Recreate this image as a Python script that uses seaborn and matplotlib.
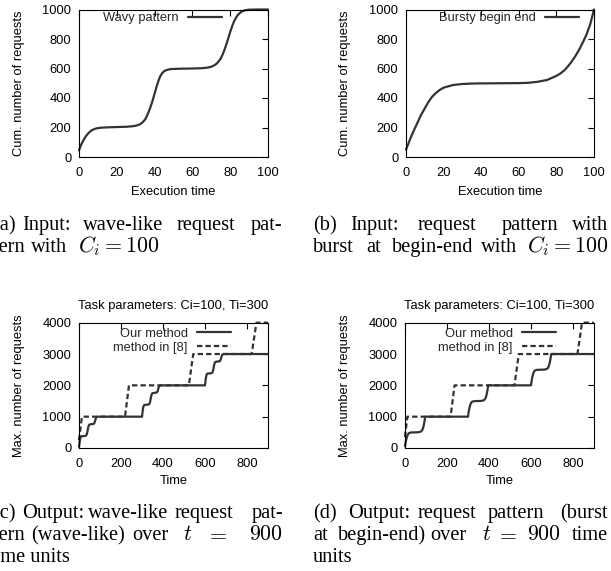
import matplotlib
matplotlib.use('Agg')
import matplotlib.pyplot as plt
import seaborn as sns

# ---------------- data ----------------
wave_t = [0, 1, 2, 3, 4, 5, 6, 7, 8, 9, 10, 12, 15, 20, 25, 28, 30, 32, 33, 34, 35,
          36, 37, 38, 39, 40, 41, 42, 43, 44, 45, 46, 48, 50, 55, 60, 65, 68, 70, 71,
          72, 73, 74, 75, 76, 77, 78, 79, 80, 81, 82, 83, 84, 85, 86, 87, 88, 90, 95, 100]
wave_v = [45, 80, 105, 128, 147, 162, 174, 183, 189, 193, 196, 199, 201, 203, 205, 208, 212, 220, 228, 240, 255,
          280, 310, 345, 385, 430, 475, 515, 548, 568, 581, 588, 595, 597, 599, 600, 602, 606, 612, 618,
          625, 635, 650, 668, 695, 728, 765, 805, 848, 885, 918, 943, 962, 975, 985, 991, 995, 999, 1000, 1000]

burst_t = [0, 2, 4, 6, 8, 10, 12, 14, 16, 18, 20, 25, 30, 35, 40, 50, 60, 65, 70, 75,
           80, 82, 84, 86, 88, 90, 92, 94, 96, 98, 100]
burst_v = [50, 115, 175, 230, 285, 330, 375, 410, 435, 455, 470, 488, 495, 498, 499, 500, 501, 503, 510, 522,
           550, 565, 585, 612, 645, 682, 725, 775, 830, 900, 1000]

c_ours_t = [0, 1, 2, 3, 4, 6, 8, 10, 13, 20, 28, 32, 35, 37, 39, 41, 43, 45, 47, 50, 58, 66, 70, 72, 74, 76, 78, 80, 82, 85, 90,
            300, 301, 302, 303, 304, 306, 308, 310, 313, 320, 328, 332, 335, 337, 339, 341, 343, 345, 347, 350, 358, 366, 370, 372, 374, 376, 378, 380, 382, 385, 390,
            600, 601, 602, 603, 604, 606, 608, 610, 613, 620, 628, 632, 635, 637, 639, 641, 643, 645, 647, 650, 658, 666, 670, 672, 674, 676, 678, 680, 682, 685, 690,
            900]
c_ours_v = [40, 90, 140, 185, 230, 300, 345, 366, 376, 380, 384, 392, 410, 440, 490, 560, 630, 690, 725, 750, 760, 765, 772, 785, 810, 850, 900, 945, 975, 994, 1000,
            1000, 1060, 1120, 1175, 1225, 1300, 1345, 1366, 1376, 1380, 1384, 1392, 1410, 1440, 1490, 1560, 1630, 1690, 1725, 1750, 1760, 1765, 1772, 1785, 1810, 1850, 1900, 1945, 1975, 1994, 2000,
            2000, 2060, 2120, 2175, 2225, 2300, 2345, 2366, 2376, 2380, 2384, 2392, 2410, 2440, 2490, 2560, 2630, 2690, 2725, 2750, 2760, 2765, 2772, 2785, 2810, 2850, 2900, 2945, 2975, 2994, 3000,
            3000]
c_ref_t = [0, 14, 219, 238, 523, 544, 822, 845, 900]
c_ref_v = [250, 1000, 1000, 2000, 2000, 3000, 3000, 4000, 4000]

d_ours_t = [0, 1, 2, 3, 4, 6, 8, 10, 12, 14, 16, 18, 20, 25, 30, 40, 50, 60, 65, 70, 75, 78, 80, 82, 84, 86, 88, 90, 92, 94, 96,
            300, 301, 302, 303, 304, 306, 308, 310, 312, 314, 316, 318, 320, 325, 330, 340, 350, 360, 365, 370, 375, 378, 380, 382, 384, 386, 388, 390, 392, 394, 396,
            600, 601, 602, 603, 604, 606, 608, 610, 612, 614, 616, 618, 620, 625, 630, 640, 650, 660, 665, 670, 675, 678, 680, 682, 684, 686, 688, 690, 692, 694, 696,
            900]
d_ours_v = [60, 100, 140, 178, 212, 270, 320, 362, 400, 430, 452, 468, 478, 490, 495, 498, 500, 502, 505, 512, 525, 538, 552, 572, 600, 640, 690, 750, 820, 900, 1000,
            1000, 1050, 1095, 1140, 1180, 1250, 1310, 1360, 1400, 1430, 1452, 1468, 1478, 1490, 1495, 1498, 1500, 1502, 1505, 1512, 1525, 1538, 1552, 1572, 1600, 1640, 1690, 1750, 1820, 1900, 2000,
            2000, 2050, 2095, 2140, 2180, 2250, 2310, 2360, 2400, 2430, 2452, 2468, 2478, 2490, 2495, 2498, 2500, 2502, 2505, 2512, 2525, 2538, 2552, 2572, 2600, 2640, 2690, 2750, 2820, 2900, 3000,
            3000]
d_ref_t = [0, 11, 217, 236, 521, 542, 821, 843, 900]
d_ref_v = [350, 1000, 1000, 2000, 2000, 3000, 3000, 4000, 4000]

in_xticks = [0, 20, 40, 60, 80, 100]
in_yticks = [0, 200, 400, 600, 800, 1000]
out_xticks = [0, 200, 400, 600, 800]
out_yticks = [0, 1000, 2000, 3000, 4000]

# ---------------- style ----------------
sns.set_theme(style='white')
plt.rcParams['font.family'] = ['Liberation Sans', 'DejaVu Sans']
plt.rcParams['mathtext.fontset'] = 'cm'

W, H = 611, 571
FS = 9.3
LC = '#333333'
LW = 1.6
fig = plt.figure(figsize=(W / 100, H / 100), dpi=100)
fig.patch.set_facecolor('white')


def add_ax(l, r, t, b):
    return fig.add_axes([l / W, 1 - b / H, (r - l) / W, (b - t) / H])


def style(ax, xlim, ylim, xt, yt, xlabel, ylabel, ylab_x, xlab_y):
    ax.set_xlim(*xlim)
    ax.set_ylim(*ylim)
    ax.set_xticks(xt)
    ax.set_yticks(yt)
    ax.tick_params(direction='in', length=4, width=0.8, top=True, right=True,
                   labelsize=FS, colors='black')
    ax.tick_params(axis='x', pad=7)
    ax.tick_params(axis='y', pad=5.5)
    for s in ax.spines.values():
        s.set_color('black')
        s.set_linewidth(0.8)
        s.set_visible(True)
    ax.set_xlabel(xlabel, fontsize=FS, color='black')
    ax.set_ylabel(ylabel, fontsize=FS, color='black')
    ax.yaxis.set_label_coords(ylab_x, 0.5)
    ax.xaxis.set_label_coords(0.5, xlab_y)
    ax.set_facecolor('white')


def legend(ax, x, y):
    ax.legend(loc='upper right', bbox_to_anchor=(x, y), frameon=False, markerfirst=False,
              fontsize=FS, handlelength=2.65, handletextpad=0.7, borderpad=0,
              borderaxespad=0, labelspacing=0.15)


axa = add_ax(79, 268, 9.5, 157)
axb = add_ax(406, 594, 9.5, 157)
axc = add_ax(79, 268, 322.7, 448)
axd = add_ax(405, 594, 322.7, 448)

sns.lineplot(x=wave_t, y=wave_v, ax=axa, color=LC, lw=LW, sort=False, estimator=None, label='Wavy pattern')
sns.lineplot(x=burst_t, y=burst_v, ax=axb, color=LC, lw=LW, sort=False, estimator=None, label='Bursty begin end')

for ax, ot, ov, rt, rv in [(axc, c_ours_t, c_ours_v, c_ref_t, c_ref_v),
                           (axd, d_ours_t, d_ours_v, d_ref_t, d_ref_v)]:
    sns.lineplot(x=ot, y=ov, ax=ax, color=LC, lw=LW, sort=False, estimator=None, label='Our method')
    sns.lineplot(x=rt, y=rv, ax=ax, color=LC, lw=LW, sort=False, estimator=None, label='method in [8]')
    ax.get_lines()[-1].set_dashes([2.4, 1.4])

for ax in (axa, axb, axc, axd):
    for ln in ax.get_lines():
        ln.set_clip_on(False)

style(axa, (0, 100), (0, 1000), in_xticks, in_yticks, 'Execution time', 'Cum. number of requests', -0.285, -0.195)
style(axb, (0, 100), (0, 1000), in_xticks, in_yticks, 'Execution time', 'Cum. number of requests', -0.29, -0.195)
style(axc, (0, 900), (0, 4000), out_xticks, out_yticks, 'Time', 'Max. number of requests', -0.285, -0.215)
style(axd, (0, 900), (0, 4000), out_xticks, out_yticks, 'Time', 'Max. number of requests', -0.285, -0.215)

for ax in (axc, axd):
    ax.set_title('Task parameters: Ci=100, Ti=300', fontsize=FS, pad=10, color='black')

legend(axa, 0.757, 0.980)
legend(axb, 0.920, 0.980)
legend(axc, 0.804, 0.960)
legend(axd, 0.799, 0.960)

# ---------------- captions ----------------
SERIF = ['Liberation Serif', 'DejaVu Serif']
CFS = 14.7
MFS = 15.8


def caption(words, y):
    for x, s, ha in words:
        fs = MFS if s.startswith('$') else CFS
        fig.text(x / W, 1 - y / H, s, fontsize=fs, family=SERIF, ha=ha, va='baseline', color='black')


caption([(-7, '(a)', 'left'), (22, 'Input:', 'left'), (83, 'wave-like', 'left'),
         (177, 'request', 'left'), (282, 'pat-', 'right')], 230)
caption([(-6, 'tern', 'left'), (31, 'with', 'left'), (78, r'$C_i = 100$', 'left')], 252)
caption([(313, '(b)', 'left'), (350, 'Input:', 'left'), (418, 'request', 'left'),
         (502, 'pattern', 'left'), (608, 'with', 'right')], 230)
caption([(313, 'burst', 'left'), (366, 'at', 'left'), (392, 'begin-end', 'left'),
         (481, 'with', 'left'), (608, r'$C_i = 100$', 'right')], 252)

caption([(-7, '(c)', 'left'), (22, 'Output:', 'left'), (88, 'wave-like', 'left'),
         (175, 'request', 'left'), (283, 'pat-', 'right')], 518)
caption([(-6, 'tern', 'left'), (31, '(wave-like)', 'left'), (132, 'over', 'left'),
         (183, r'$t$', 'left'), (206, r'$=$', 'left'), (283, r'$900$', 'right')], 540)
caption([(-11, 'time units', 'left')], 562)

caption([(313, '(d)', 'left'), (348, 'Output:', 'left'), (418, 'request', 'left'),
         (488, 'pattern', 'left'), (608, '(burst', 'right')], 518)
caption([(313, 'at', 'left'), (338, 'begin-end)', 'left'), (430, 'over', 'left'),
         (482, r'$t$', 'left'), (496, r'$=$', 'left'), (527, r'$900$', 'left'), (608, 'time', 'right')], 540)
caption([(313, 'units', 'left')], 562)

fig.savefig('out.png', dpi=100, facecolor='white')
